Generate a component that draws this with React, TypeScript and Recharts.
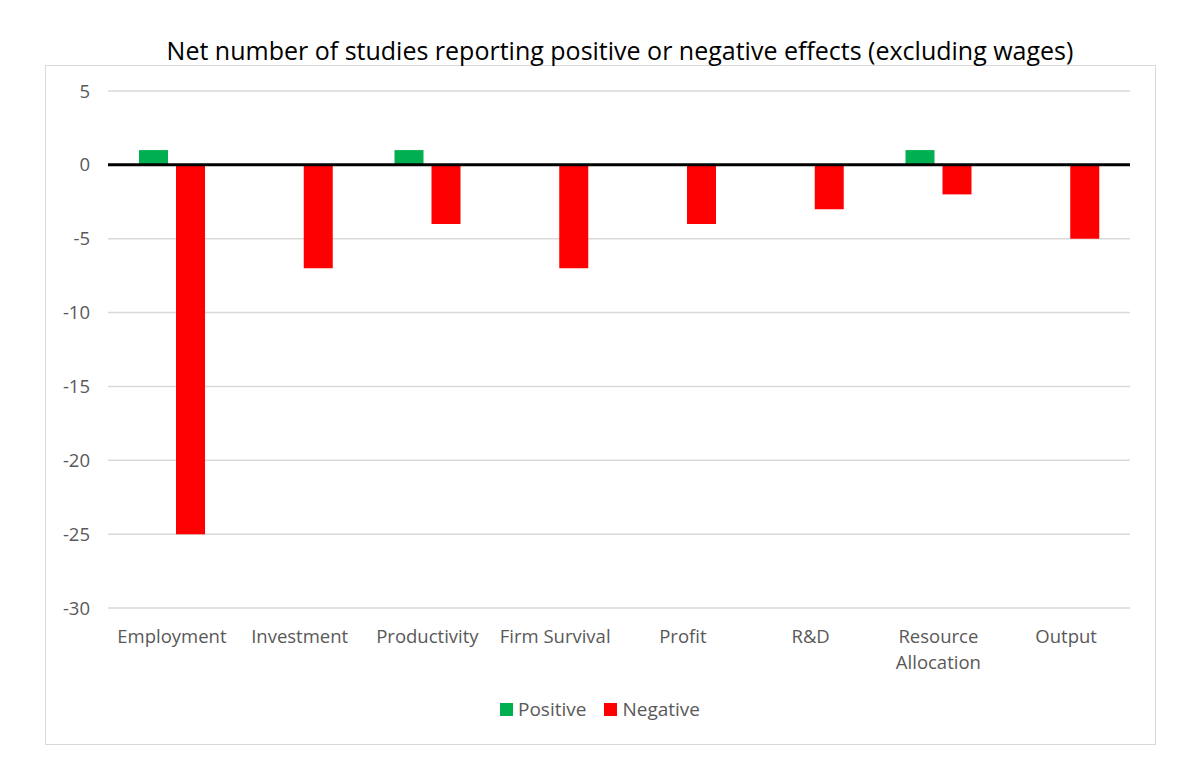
import React from 'react';
import { BarChart, Bar, XAxis, YAxis, CartesianGrid, ReferenceLine } from 'recharts';

const categories = [
  'Employment',
  'Investment',
  'Productivity',
  'Firm Survival',
  'Profit',
  'R&D',
  'Resource\nAllocation',
  'Output',
];
const positive = [1, null, 1, null, null, null, 1, null];
const negative = [-25, -7, -4, -7, -4, -3, -2, -5];
const yTicks = [5, 0, -5, -10, -15, -20, -25, -30];

const series = [
  { key: 'Positive', color: '#00b050' },
  { key: 'Negative', color: '#ff0000' },
];

const FONT = '"Open Sans", "Noto Sans", sans-serif';
const TEXT = '#595959';

const data = categories.map((c, i) => ({ name: c, Positive: positive[i], Negative: negative[i] }));

const CategoryTick = (props: any) => {
  const { x, y, payload } = props;
  const lines = String(payload.value).split('\n');
  return (
    <g transform={`translate(${x},${y})`}>
      {lines.map((l, i) => (
        <text key={i} x={0} y={27 + i * 26} textAnchor="middle" fill={TEXT} fontSize={18.5} fontFamily={FONT}>
          {l}
        </text>
      ))}
    </g>
  );
};

export default function App() {
  return (
    <div style={{ position: 'absolute', left: 0, top: 0, width: 1200, height: 769, background: '#fff' }}>
      <div
        style={{
          position: 'absolute',
          left: 45,
          top: 65,
          width: 1111,
          height: 680,
          border: '1.5px solid #d9d9d9',
          boxSizing: 'border-box',
        }}
      />
      <div
        style={{
          position: 'absolute',
          left: 0,
          top: 33,
          width: 1240,
          textAlign: 'center',
          fontFamily: FONT,
          fontSize: 25,
          color: '#000',
          lineHeight: '34px',
        }}
      >
        Net number of studies reporting positive or negative effects (excluding wages)
      </div>
      <div style={{ position: 'absolute', left: 0, top: 0 }}>
        <BarChart
          width={1200}
          height={769}
          data={data}
          margin={{ top: 91, right: 70, left: 48, bottom: 131 }}
          barSize={29}
          barGap={8}
        >
          <CartesianGrid vertical={false} stroke="#d9d9d9" strokeWidth={1.5} />
          <XAxis dataKey="name" height={30} axisLine={false} tickLine={false} tick={<CategoryTick />} interval={0} />
          <YAxis
            domain={[-30, 5]}
            ticks={yTicks}
            width={60}
            axisLine={false}
            tickLine={false}
            tickMargin={12}
            tick={{ fill: TEXT, fontSize: 18.5, fontFamily: FONT }}
          />
          <ReferenceLine y={0} stroke="#000" strokeWidth={3} />
          {series.map((s) => (
            <Bar key={s.key} dataKey={s.key} fill={s.color} isAnimationActive={false} />
          ))}
        </BarChart>
      </div>
      <div
        style={{
          position: 'absolute',
          left: 0,
          top: 695,
          width: 1200,
          display: 'flex',
          justifyContent: 'center',
          gap: 18,
          fontFamily: FONT,
          fontSize: 19,
          color: TEXT,
          lineHeight: '28px',
        }}
      >
        {series.map((s) => (
          <div key={s.key} style={{ display: 'flex', alignItems: 'center', gap: 5 }}>
            <span style={{ display: 'inline-block', width: 13, height: 13, background: s.color }} />
            <span>{s.key}</span>
          </div>
        ))}
      </div>
    </div>
  );
}
